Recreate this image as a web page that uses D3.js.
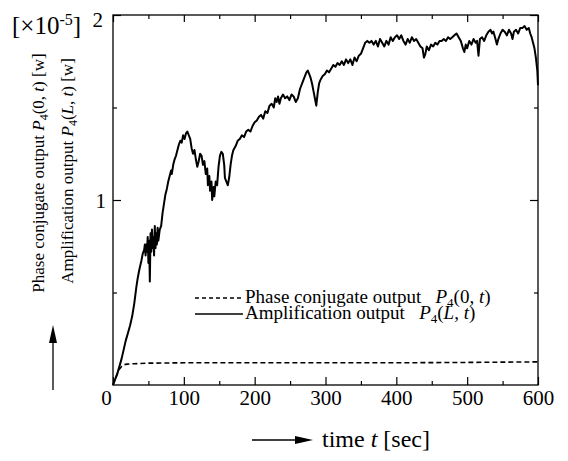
<!DOCTYPE html>
<html>
<head>
<meta charset="utf-8">
<script src="https://cdn.jsdelivr.net/npm/d3@7"></script>
<style>
  body { margin: 0; background: #fff; }
  svg, svg text { font-family: "Liberation Serif", "Times New Roman", serif; }
</style>
</head>
<body>
<svg id="chart"></svg>
<script>
// amplification output P4(L, t), units of 1e-5 W
var ampT = [0, 3, 6, 9, 12, 15, 18, 21, 24, 27, 30, 33, 35, 37, 40, 42, 44, 45, 46, 47, 48, 49, 50, 51, 52, 53, 54, 55, 56, 57, 58, 59, 60, 61, 62, 63, 64, 66, 68, 70, 72, 74, 76, 78, 80, 82, 83, 85, 87, 89, 91, 93, 95, 97, 99, 101, 103, 105, 107, 109, 111, 113, 115, 117, 119, 121, 123, 125, 127, 129, 131, 133, 134, 136, 137, 139, 140, 142, 143, 145, 147, 149, 151, 153, 155, 157, 158, 160, 162, 164, 166, 168, 170, 173, 176, 179, 182, 185, 188, 191, 194, 197, 200, 203, 206, 209, 212, 215, 218, 221, 224, 227, 229, 231, 233, 235, 237, 240, 243, 246, 249, 252, 255, 258, 261, 264, 267, 270, 273, 275, 277, 279, 281, 283, 285, 287, 289, 291, 293, 296, 299, 302, 305, 308, 311, 314, 317, 320, 323, 326, 329, 332, 335, 338, 341, 344, 347, 350, 353, 356, 359, 362, 365, 368, 371, 374, 377, 380, 383, 386, 389, 392, 395, 398, 401, 404, 407, 410, 413, 416, 419, 422, 425, 428, 431, 434, 437, 439, 441, 443, 446, 449, 452, 455, 458, 461, 464, 467, 470, 473, 476, 479, 482, 485, 488, 491, 494, 496, 498, 500, 503, 506, 509, 512, 514, 516, 518, 521, 524, 527, 530, 533, 535, 537, 540, 542, 544, 547, 550, 553, 556, 559, 562, 564, 566, 569, 572, 575, 578, 581, 584, 587, 589, 591, 593, 595, 597, 599, 600];
var ampP = [0, 0.03, 0.06, 0.10, 0.14, 0.19, 0.24, 0.28, 0.32, 0.37, 0.44, 0.53, 0.58, 0.62, 0.67, 0.71, 0.73, 0.76, 0.70, 0.76, 0.72, 0.80, 0.66, 0.78, 0.56, 0.82, 0.72, 0.84, 0.74, 0.80, 0.70, 0.86, 0.74, 0.82, 0.76, 0.85, 0.78, 0.84, 0.86, 0.93, 0.98, 1.03, 1.06, 1.10, 1.13, 1.16, 1.14, 1.19, 1.22, 1.24, 1.27, 1.30, 1.32, 1.31, 1.35, 1.33, 1.36, 1.37, 1.35, 1.33, 1.28, 1.25, 1.27, 1.22, 1.18, 1.21, 1.25, 1.24, 1.19, 1.21, 1.14, 1.17, 1.08, 1.13, 1.05, 1.10, 1.00, 1.07, 1.02, 1.10, 1.08, 1.18, 1.24, 1.26, 1.25, 1.19, 1.12, 1.10, 1.08, 1.12, 1.19, 1.24, 1.27, 1.29, 1.32, 1.33, 1.35, 1.34, 1.37, 1.38, 1.37, 1.40, 1.42, 1.43, 1.45, 1.46, 1.44, 1.48, 1.47, 1.51, 1.52, 1.50, 1.55, 1.53, 1.56, 1.52, 1.55, 1.57, 1.55, 1.56, 1.54, 1.57, 1.56, 1.53, 1.55, 1.60, 1.63, 1.66, 1.69, 1.70, 1.68, 1.66, 1.63, 1.59, 1.55, 1.51, 1.58, 1.63, 1.65, 1.67, 1.68, 1.70, 1.69, 1.71, 1.73, 1.72, 1.74, 1.73, 1.75, 1.73, 1.76, 1.74, 1.76, 1.73, 1.77, 1.75, 1.78, 1.79, 1.82, 1.85, 1.86, 1.85, 1.86, 1.84, 1.86, 1.83, 1.87, 1.85, 1.83, 1.86, 1.84, 1.88, 1.86, 1.88, 1.89, 1.87, 1.89, 1.86, 1.84, 1.87, 1.85, 1.88, 1.86, 1.87, 1.85, 1.83, 1.82, 1.77, 1.79, 1.83, 1.81, 1.84, 1.83, 1.85, 1.84, 1.86, 1.86, 1.87, 1.86, 1.88, 1.87, 1.88, 1.89, 1.90, 1.88, 1.86, 1.82, 1.80, 1.84, 1.82, 1.86, 1.84, 1.87, 1.85, 1.86, 1.78, 1.87, 1.88, 1.86, 1.89, 1.91, 1.92, 1.90, 1.91, 1.87, 1.84, 1.87, 1.90, 1.92, 1.91, 1.89, 1.92, 1.90, 1.87, 1.91, 1.92, 1.90, 1.93, 1.93, 1.94, 1.92, 1.93, 1.90, 1.88, 1.85, 1.82, 1.77, 1.70, 1.62];

// phase conjugate output P4(0, t)
var phaseT = [0, 4, 8, 12, 16, 20, 30, 50, 100, 200, 300, 400, 500, 600];
var phaseP = [0, 0.04, 0.08, 0.10, 0.11, 0.113, 0.115, 0.118, 0.12, 0.12, 0.12, 0.12, 0.122, 0.125];

var xMajor = [0, 100, 200, 300, 400, 500, 600];
var xMinor = [50, 150, 250, 350, 450, 550];
var yMajor = [1, 2];
var yMinor = [0.5, 1.5];

var width = 568,
    height = 461,
    margin = {top: 15, left: 113, right: 30, bottom: 76},
    innerWidth = width - margin.left - margin.right,
    innerHeight = height - margin.top - margin.bottom;

var svg = d3.select('#chart')
    .attr('width', width)
    .attr('height', height);

var chart = svg.append('g')
    .attr('transform', 'translate(' + margin.left + ',' + margin.top + ')');

var x = d3.scaleLinear().domain([0, 600]).range([0, innerWidth]);
var y = d3.scaleLinear().domain([0, 2]).range([innerHeight, 0]);

function styleAxis(g) {
    g.attr('font-family', null).attr('font-size', null);
    g.select('.domain').remove();
    g.selectAll('line').attr('stroke', '#000').attr('stroke-width', 1.2);
    g.selectAll('text').attr('fill', '#000').style('font-size', '21px');
}

// bottom axis
chart.append('g')
    .attr('transform', 'translate(0,' + innerHeight + ')')
    .call(d3.axisBottom(x).tickValues(xMajor).tickSize(-8).tickPadding(5).tickFormat(d3.format('d')))
    .call(styleAxis)
    .selectAll('.tick text')
    .attr('dx', function (d) { return d === 0 ? -7 : 0; });

chart.append('g')
    .attr('transform', 'translate(0,' + innerHeight + ')')
    .call(d3.axisBottom(x).tickValues(xMinor).tickSize(-4).tickFormat(''))
    .call(styleAxis);

// top axis ticks
chart.append('g')
    .call(d3.axisTop(x).tickValues(xMajor).tickSize(-7).tickFormat(''))
    .call(styleAxis);
chart.append('g')
    .call(d3.axisTop(x).tickValues(xMinor).tickSize(-4).tickFormat(''))
    .call(styleAxis);

// left axis
chart.append('g')
    .call(d3.axisLeft(y).tickValues(yMajor).tickSize(-8).tickPadding(7).tickFormat(d3.format('d')))
    .call(styleAxis)
    .selectAll('.tick text')
    .attr('dy', function (d) { return d === 2 ? '0.55em' : '0.35em'; })
    .attr('dx', function (d) { return d === 2 ? -3 : 0; });

chart.append('g')
    .call(d3.axisLeft(y).tickValues(yMinor).tickSize(-4).tickFormat(''))
    .call(styleAxis);

// right axis ticks
chart.append('g')
    .attr('transform', 'translate(' + innerWidth + ',0)')
    .call(d3.axisRight(y).tickValues(yMajor).tickSize(-8).tickFormat(''))
    .call(styleAxis);
chart.append('g')
    .attr('transform', 'translate(' + innerWidth + ',0)')
    .call(d3.axisRight(y).tickValues(yMinor).tickSize(-4).tickFormat(''))
    .call(styleAxis);

// frame
chart.append('rect')
    .attr('width', innerWidth)
    .attr('height', innerHeight)
    .attr('fill', 'none')
    .attr('stroke', '#000')
    .attr('stroke-width', 1.3);

var line = d3.line()
    .x(function (d) { return x(d[0]); })
    .y(function (d) { return y(d[1]); });

chart.append('path')
    .datum(d3.zip(phaseT, phaseP))
    .attr('d', line)
    .attr('fill', 'none')
    .attr('stroke', '#000')
    .attr('stroke-width', 1.6)
    .attr('stroke-dasharray', '5,3');

chart.append('path')
    .datum(d3.zip(ampT, ampP))
    .attr('d', line)
    .attr('fill', 'none')
    .attr('stroke', '#000')
    .attr('stroke-width', 2)
    .attr('stroke-linejoin', 'round');

// legend
var legend = svg.append('g').style('font-size', '19px');
legend.append('line')
    .attr('x1', 195).attr('x2', 243).attr('y1', 298).attr('y2', 298)
    .attr('stroke', '#000').attr('stroke-width', 1.4).attr('stroke-dasharray', '4,3');
legend.append('line')
    .attr('x1', 195).attr('x2', 243).attr('y1', 314).attr('y2', 314)
    .attr('stroke', '#000').attr('stroke-width', 1.6);

function pLabel(t, pre, arg, subSize) {
    t.append('tspan').text(pre);
    t.append('tspan').style('font-style', 'italic').text('P');
    t.append('tspan').attr('dy', 4).style('font-size', subSize).text('4');
    t.append('tspan').attr('dy', -4).text('(');
    arg(t);
    t.append('tspan').style('font-style', 'italic').text('t');
    t.append('tspan').text(')');
}

pLabel(legend.append('text').attr('x', 245).attr('y', 303),
    'Phase conjugate output\u00a0\u00a0 ', function (t) { t.append('tspan').text('0, '); }, '13px');
pLabel(legend.append('text').attr('x', 245).attr('y', 319),
    'Amplification output\u00a0\u00a0 ', function (t) {
        t.append('tspan').style('font-style', 'italic').text('L');
        t.append('tspan').text(', ');
    }, '13px');

// y label
var ylab = svg.append('g').style('font-size', '17px');
var yl1 = ylab.append('text')
    .attr('transform', 'translate(44,173) rotate(-90)')
    .attr('text-anchor', 'middle');
pLabel(yl1, 'Phase conjugate output ', function (t) { t.append('tspan').text('0, '); }, '12px');
yl1.append('tspan').text(' [w]');
var yl2 = ylab.append('text')
    .attr('transform', 'translate(73,171) rotate(-90)')
    .attr('text-anchor', 'middle');
pLabel(yl2, 'Amplification output ', function (t) {
    t.append('tspan').style('font-style', 'italic').text('L');
    t.append('tspan').text(', ');
}, '12px');
yl2.append('tspan').text(' [w]');

// axis arrows
svg.append('line')
    .attr('x1', 53).attr('x2', 53).attr('y1', 390).attr('y2', 340)
    .attr('stroke', '#000').attr('stroke-width', 1.3);
svg.append('path')
    .attr('d', 'M53,325 L49,343 L57,343 Z')
    .attr('fill', '#000');

svg.append('line')
    .attr('x1', 252).attr('x2', 298).attr('y1', 440).attr('y2', 440)
    .attr('stroke', '#000').attr('stroke-width', 1.3);
svg.append('path')
    .attr('d', 'M313,440 L295,436 L295,444 Z')
    .attr('fill', '#000');

var xl = svg.append('text')
    .attr('x', 322).attr('y', 447)
    .style('font-size', '24px');
xl.append('tspan').text('time ');
xl.append('tspan').style('font-style', 'italic').text('t');
xl.append('tspan').text(' [sec]');

// scale factor
var sf = svg.append('text')
    .attr('x', 12).attr('y', 34)
    .style('font-size', '25px');
sf.append('tspan').text('[\u00d710');
sf.append('tspan').attr('dy', -9).style('font-size', '16px').text('-5');
sf.append('tspan').attr('dy', 9).text(']');
</script>
</body>
</html>
